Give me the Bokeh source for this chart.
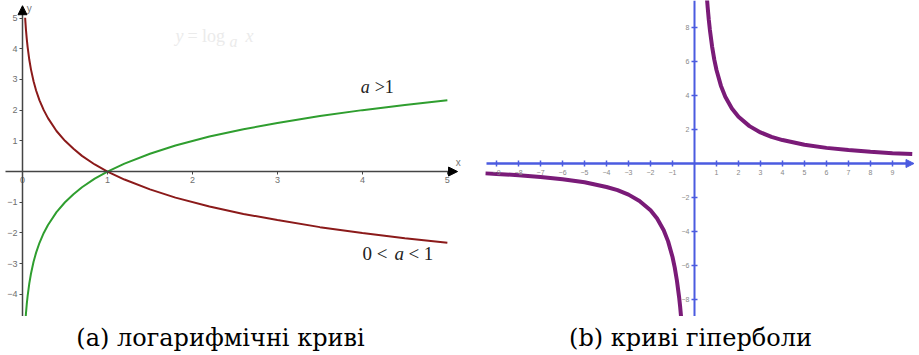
from bokeh.plotting import figure
from bokeh.models import LinearAxis, FixedTicker, Arrow, NormalHead, Range1d
from bokeh.layouts import row, column
from bokeh.core.properties import value
from bokeh.embed import file_html
from bokeh.resources import INLINE

# ---- data (a): logarithmic curves ----
log_x = [0.031, 0.035, 0.04, 0.05, 0.06, 0.08, 0.1, 0.13, 0.16, 0.2, 0.25, 0.3, 0.4, 0.5,
         0.6, 0.7, 0.85, 1.0, 1.2, 1.5, 1.8, 2.2, 2.6, 3.0, 3.5, 4.0, 4.5, 5.0]
green_y = [-5.01, -4.84, -4.64, -4.32, -4.06, -3.64, -3.32, -2.94, -2.64, -2.32, -2.0, -1.74, -1.32, -1.0,
           -0.74, -0.51, -0.23, 0.0, 0.26, 0.58, 0.85, 1.14, 1.38, 1.58, 1.81, 2.0, 2.17, 2.32]
red_y = [5.01, 4.84, 4.64, 4.32, 4.06, 3.64, 3.32, 2.94, 2.64, 2.32, 2.0, 1.74, 1.32, 1.0,
         0.74, 0.51, 0.23, 0.0, -0.26, -0.58, -0.85, -1.14, -1.38, -1.58, -1.81, -2.0, -2.17, -2.32]
log_xticks = [0, 1, 2, 3, 4, 5]
log_yticks = [-4, -3, -2, -1, 1, 2, 3, 4, 5]

# ---- data (b): hyperbola ----
hyp_pos_x = [0.57, 0.6, 0.65, 0.7, 0.8, 0.9, 1.0, 1.2, 1.4, 1.7, 2.0, 2.5, 3.0, 3.5, 4.0, 5.0, 6.0, 7.0, 8.0, 9.0, 9.9]
hyp_pos_y = [9.65, 9.17, 8.46, 7.86, 6.88, 6.11, 5.5, 4.58, 3.93, 3.24, 2.75, 2.2, 1.83, 1.57, 1.38, 1.1, 0.92, 0.79, 0.69, 0.61, 0.56]
hyp_neg_x = [-9.5, -9.0, -8.0, -7.0, -6.0, -5.0, -4.0, -3.5, -3.0, -2.5, -2.0, -1.7, -1.4, -1.2, -1.0, -0.9, -0.8, -0.7, -0.65, -0.6]
hyp_neg_y = [-0.58, -0.61, -0.69, -0.79, -0.92, -1.1, -1.38, -1.57, -1.83, -2.2, -2.75, -3.24, -3.93, -4.58, -5.5, -6.11, -6.88, -7.86, -8.46, -9.17]
hyp_xticks = [-9, -8, -7, -6, -5, -4, -3, -2, -1, 1, 2, 3, 4, 5, 6, 7, 8, 9]
hyp_yticks = [-8, -6, -4, -2, 2, 4, 6, 8]

captions = ["(a) логарифмічні криві", "(b) криві гіперболи"]

SERIF = "Liberation Serif"
CAP_SERIF = "DejaVu Serif"


def bare(fw, fh, xr, yr):
    f = figure(frame_width=fw, frame_height=fh, x_range=Range1d(*xr), y_range=Range1d(*yr),
               x_axis_type=None, y_axis_type=None, output_backend="svg", toolbar_location=None,
               min_border=0, outline_line_color=None)
    f.xgrid.visible = False
    f.ygrid.visible = False
    return f


# ================= (a) =================
L_X0, L_X1 = -0.259, 5.39
L_Y0, L_Y1 = -4.72, 5.57
p1 = bare(480, 316, (L_X0, L_X1), (L_Y0, L_Y1))

AX1 = "#444444"
xa = LinearAxis(fixed_location=0, ticker=FixedTicker(ticks=log_xticks), bounds=(-0.2, 5.05),
                axis_line_color=AX1, axis_line_width=1.5, major_tick_in=0, major_tick_out=3,
                major_tick_line_color=AX1, minor_tick_line_color=None,
                major_label_text_font_size="9px", major_label_text_color="#6e6e6e",
                major_label_standoff=2)
ya = LinearAxis(fixed_location=0, ticker=FixedTicker(ticks=log_yticks), bounds=(L_Y0, 5.3),
                axis_line_color=AX1, axis_line_width=1.5, major_tick_in=0, major_tick_out=3,
                major_tick_line_color=AX1, minor_tick_line_color=None,
                major_label_text_font_size="9px", major_label_text_color="#6e6e6e",
                major_label_standoff=2)
p1.add_layout(xa, "below")
p1.add_layout(ya, "left")

p1.add_layout(Arrow(end=NormalHead(size=9, fill_color="black", line_color="black"),
                    x_start=4.9, y_start=0, x_end=5.12, y_end=0, line_width=0))
p1.add_layout(Arrow(end=NormalHead(size=9, fill_color="black", line_color="black"),
                    x_start=0, y_start=5.0, x_end=0, y_end=5.4, line_width=0))
p1.text(x=[5.1], y=[0.12], text=["x"], text_font_size="10px", text_color="#777777",
        text_baseline="bottom", text_align="left")
p1.text(x=[0.05], y=[5.5], text=["y"], text_font_size="10px", text_color="#777777",
        text_baseline="top", text_align="left")

p1.line(log_x, red_y, line_color="#8b1a1a", line_width=2)
p1.line(log_x, green_y, line_color="#2f9e2f", line_width=2)

# faint title y = log_a x
FAINT = "#ebebeb"
p1.text(x=[1.8], y=[4.43], text=["y"], text_font=value(SERIF), text_font_style="italic",
        text_font_size="18px", text_color=FAINT, text_baseline="middle")
p1.text(x=[1.8], y=[4.43], text=["= log"], x_offset=12, text_font=value(SERIF),
        text_font_size="18px", text_color=FAINT, text_baseline="middle")
p1.text(x=[1.8], y=[4.43], text=["a"], x_offset=54, y_offset=6, text_font=value(SERIF),
        text_font_style="italic", text_font_size="16px", text_color=FAINT, text_baseline="middle")
p1.text(x=[1.8], y=[4.43], text=["x"], x_offset=70, text_font=value(SERIF),
        text_font_style="italic", text_font_size="18px", text_color=FAINT, text_baseline="middle")

# a > 1
p1.text(x=[3.98], y=[2.74], text=["a"], text_font=value(SERIF), text_font_style="italic",
        text_font_size="18px", text_color="#222222", text_baseline="middle")
p1.text(x=[3.98], y=[2.74], text=[">1"], x_offset=14, text_font=value(SERIF),
        text_font_size="18px", text_color="#222222", text_baseline="middle")
# 0 < a < 1
p1.text(x=[4.0], y=[-2.67], text=["0 <"], text_font=value(SERIF),
        text_font_size="19px", text_color="#222222", text_baseline="middle")
p1.text(x=[4.0], y=[-2.67], text=["a"], x_offset=32, text_font=value(SERIF), text_font_style="italic",
        text_font_size="19px", text_color="#222222", text_baseline="middle")
p1.text(x=[4.0], y=[-2.67], text=["< 1"], x_offset=46, text_font=value(SERIF),
        text_font_size="19px", text_color="#222222", text_baseline="middle")

# ================= (b) =================
R_X0, R_X1 = -9.73, 10.23
R_Y0, R_Y1 = -9.0, 9.59
p2 = bare(439, 316, (R_X0, R_X1), (R_Y0, R_Y1))

AX2 = "#4b5be0"
xb = LinearAxis(fixed_location=0, ticker=FixedTicker(ticks=hyp_xticks), bounds=(-9.45, 9.8),
                axis_line_color=AX2, axis_line_width=2.5, major_tick_in=3, major_tick_out=3,
                major_tick_line_color=AX2, major_tick_line_width=1.5, minor_tick_line_color=None,
                major_label_text_font_size="7px", major_label_text_color="#888888",
                major_label_standoff=3)
yb = LinearAxis(fixed_location=0, ticker=FixedTicker(ticks=hyp_yticks), bounds=(R_Y0, R_Y1),
                axis_line_color=AX2, axis_line_width=2, major_tick_in=3, major_tick_out=3,
                major_tick_line_color=AX2, major_tick_line_width=1.5, minor_tick_line_color=None,
                major_label_text_font_size="7px", major_label_text_color="#888888",
                major_label_standoff=2)
p2.add_layout(xb, "below")
p2.add_layout(yb, "left")
p2.add_layout(Arrow(end=NormalHead(size=8, fill_color=AX2, line_color=AX2),
                    x_start=9.6, y_start=0, x_end=9.98, y_end=0, line_width=0))

p2.line(hyp_pos_x, hyp_pos_y, line_color="#7a1b78", line_width=4)
p2.line(hyp_neg_x, hyp_neg_y, line_color="#7a1b78", line_width=4)

# ================= captions =================
c1 = bare(480, 39, (0, 1), (0, 1))
c1.text(x=[220 / 480], y=[0.44], text=[captions[0]], text_font=value(CAP_SERIF), text_font_size="24px",
        text_color="black", text_align="center", text_baseline="middle")
c2 = bare(439, 39, (0, 1), (0, 1))
c2.text(x=[210 / 439], y=[0.44], text=[captions[1]], text_font=value(CAP_SERIF), text_font_size="24px",
        text_color="black", text_align="center", text_baseline="middle")

layout = column(row(p1, p2), row(c1, c2), spacing=0)
open("out.html", "w").write(file_html(layout, INLINE))
